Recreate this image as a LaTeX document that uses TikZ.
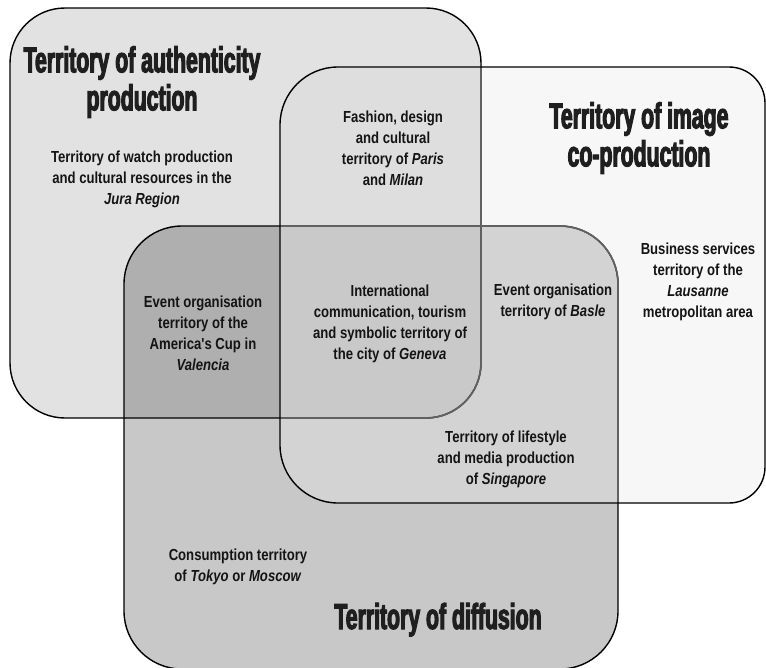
\documentclass[tikz,border=0pt]{standalone}
\usepackage{fontspec}
\setmainfont{Liberation Sans}
\newfontfamily\bodyfont{Liberation Sans}[FakeStretch=0.82]
\newfontfamily\headfont{Liberation Sans}[FakeStretch=0.59,FakeBold=3]
\definecolor{onlyA}{HTML}{E2E2E2}
\definecolor{onlyB}{HTML}{F7F7F7}
\definecolor{onlyC}{HTML}{C8C8C8}
\definecolor{fillAB}{HTML}{DEDEDE}
\definecolor{fillAC}{HTML}{AFAFAF}
\definecolor{fillBC}{HTML}{D3D3D3}
\definecolor{fillABC}{HTML}{C9C9C9}
\newcommand{\authzone}{(10,8) [rounded corners=55] rectangle (481,418)}
\newcommand{\diffzone}{(124,226) [rounded corners=58] rectangle (618,669)}
\newcommand{\imagezone}{(280,300) [rounded corners=58] -- (280,67) -- (520,67) [rounded corners=36] -- (765,67) -- (765,503) -- (520,503) [rounded corners=58] -- (280,503) -- cycle}

\begin{document}
\begin{tikzpicture}[x=1pt, y=-1pt,
  zone/.style={draw=black, line width=1.4pt},
  faded/.style={draw=black!62, line width=1.7pt},
  label/.style={font=\bodyfont\bfseries\fontsize{16}{21}\selectfont, align=center, text=black!92, inner sep=0pt},
  heading/.style={font=\headfont\bfseries\fontsize{36}{38}\selectfont, align=center, text=black!88, inner sep=0pt}
]
  \useasboundingbox (0,0) rectangle (766,667);

  \fill[onlyB] \imagezone;
  \fill[onlyA] \authzone;
  \fill[onlyC] \diffzone;
  \begin{scope}
    \clip \imagezone;
    \fill[fillBC] \diffzone;
  \end{scope}
  \begin{scope}
    \clip \authzone;
    \fill[fillAC] \diffzone;
    \fill[fillAB] \imagezone;
    \clip \imagezone;
    \fill[fillABC] \diffzone;
  \end{scope}

  \draw[zone] \authzone;
  \draw[zone] \diffzone;
  \begin{scope}
    \clip \imagezone;
    \draw[faded] \authzone;
    \draw[faded] \diffzone;
  \end{scope}
  \draw[zone] \imagezone;

  \node[heading] (authtitle) at (142,82) {Territory of authenticity\\production};
  \node[heading] (imagetitle) at (639,138) {Territory of image\\co-production};
  \node[heading, anchor=base] (difftitle) at (438,629) {Territory of diffusion};

  \node[label] (jura) at (142,179) {Territory of watch production\\and cultural resources in the\\\textit{Jura Region}};
  \node[label] (paris) at (393,148) {Fashion, design\\and cultural\\territory of \textit{Paris}\\and \textit{Milan}};
  \node[label] (lausanne) at (698,282) {Business services\\territory of the\\\textit{Lausanne}\\metropolitan area};
  \node[label] (basle) at (553,302) {Event organisation\\territory of \textit{Basle}};
  \node[label] (geneva) at (390,324) {International\\communication, tourism\\and symbolic territory of\\the city of \textit{Geneva}};
  \node[label] (valencia) at (203,333) {Event organisation\\territory of the\\America's Cup in\\\textit{Valencia}};
  \node[label] (singapore) at (506,459) {Territory of lifestyle\\and media production\\of \textit{Singapore}};
  \node[label] (tokyo) at (238,567) {Consumption territory\\of \textit{Tokyo} or \textit{Moscow}};
\end{tikzpicture}
\end{document}
